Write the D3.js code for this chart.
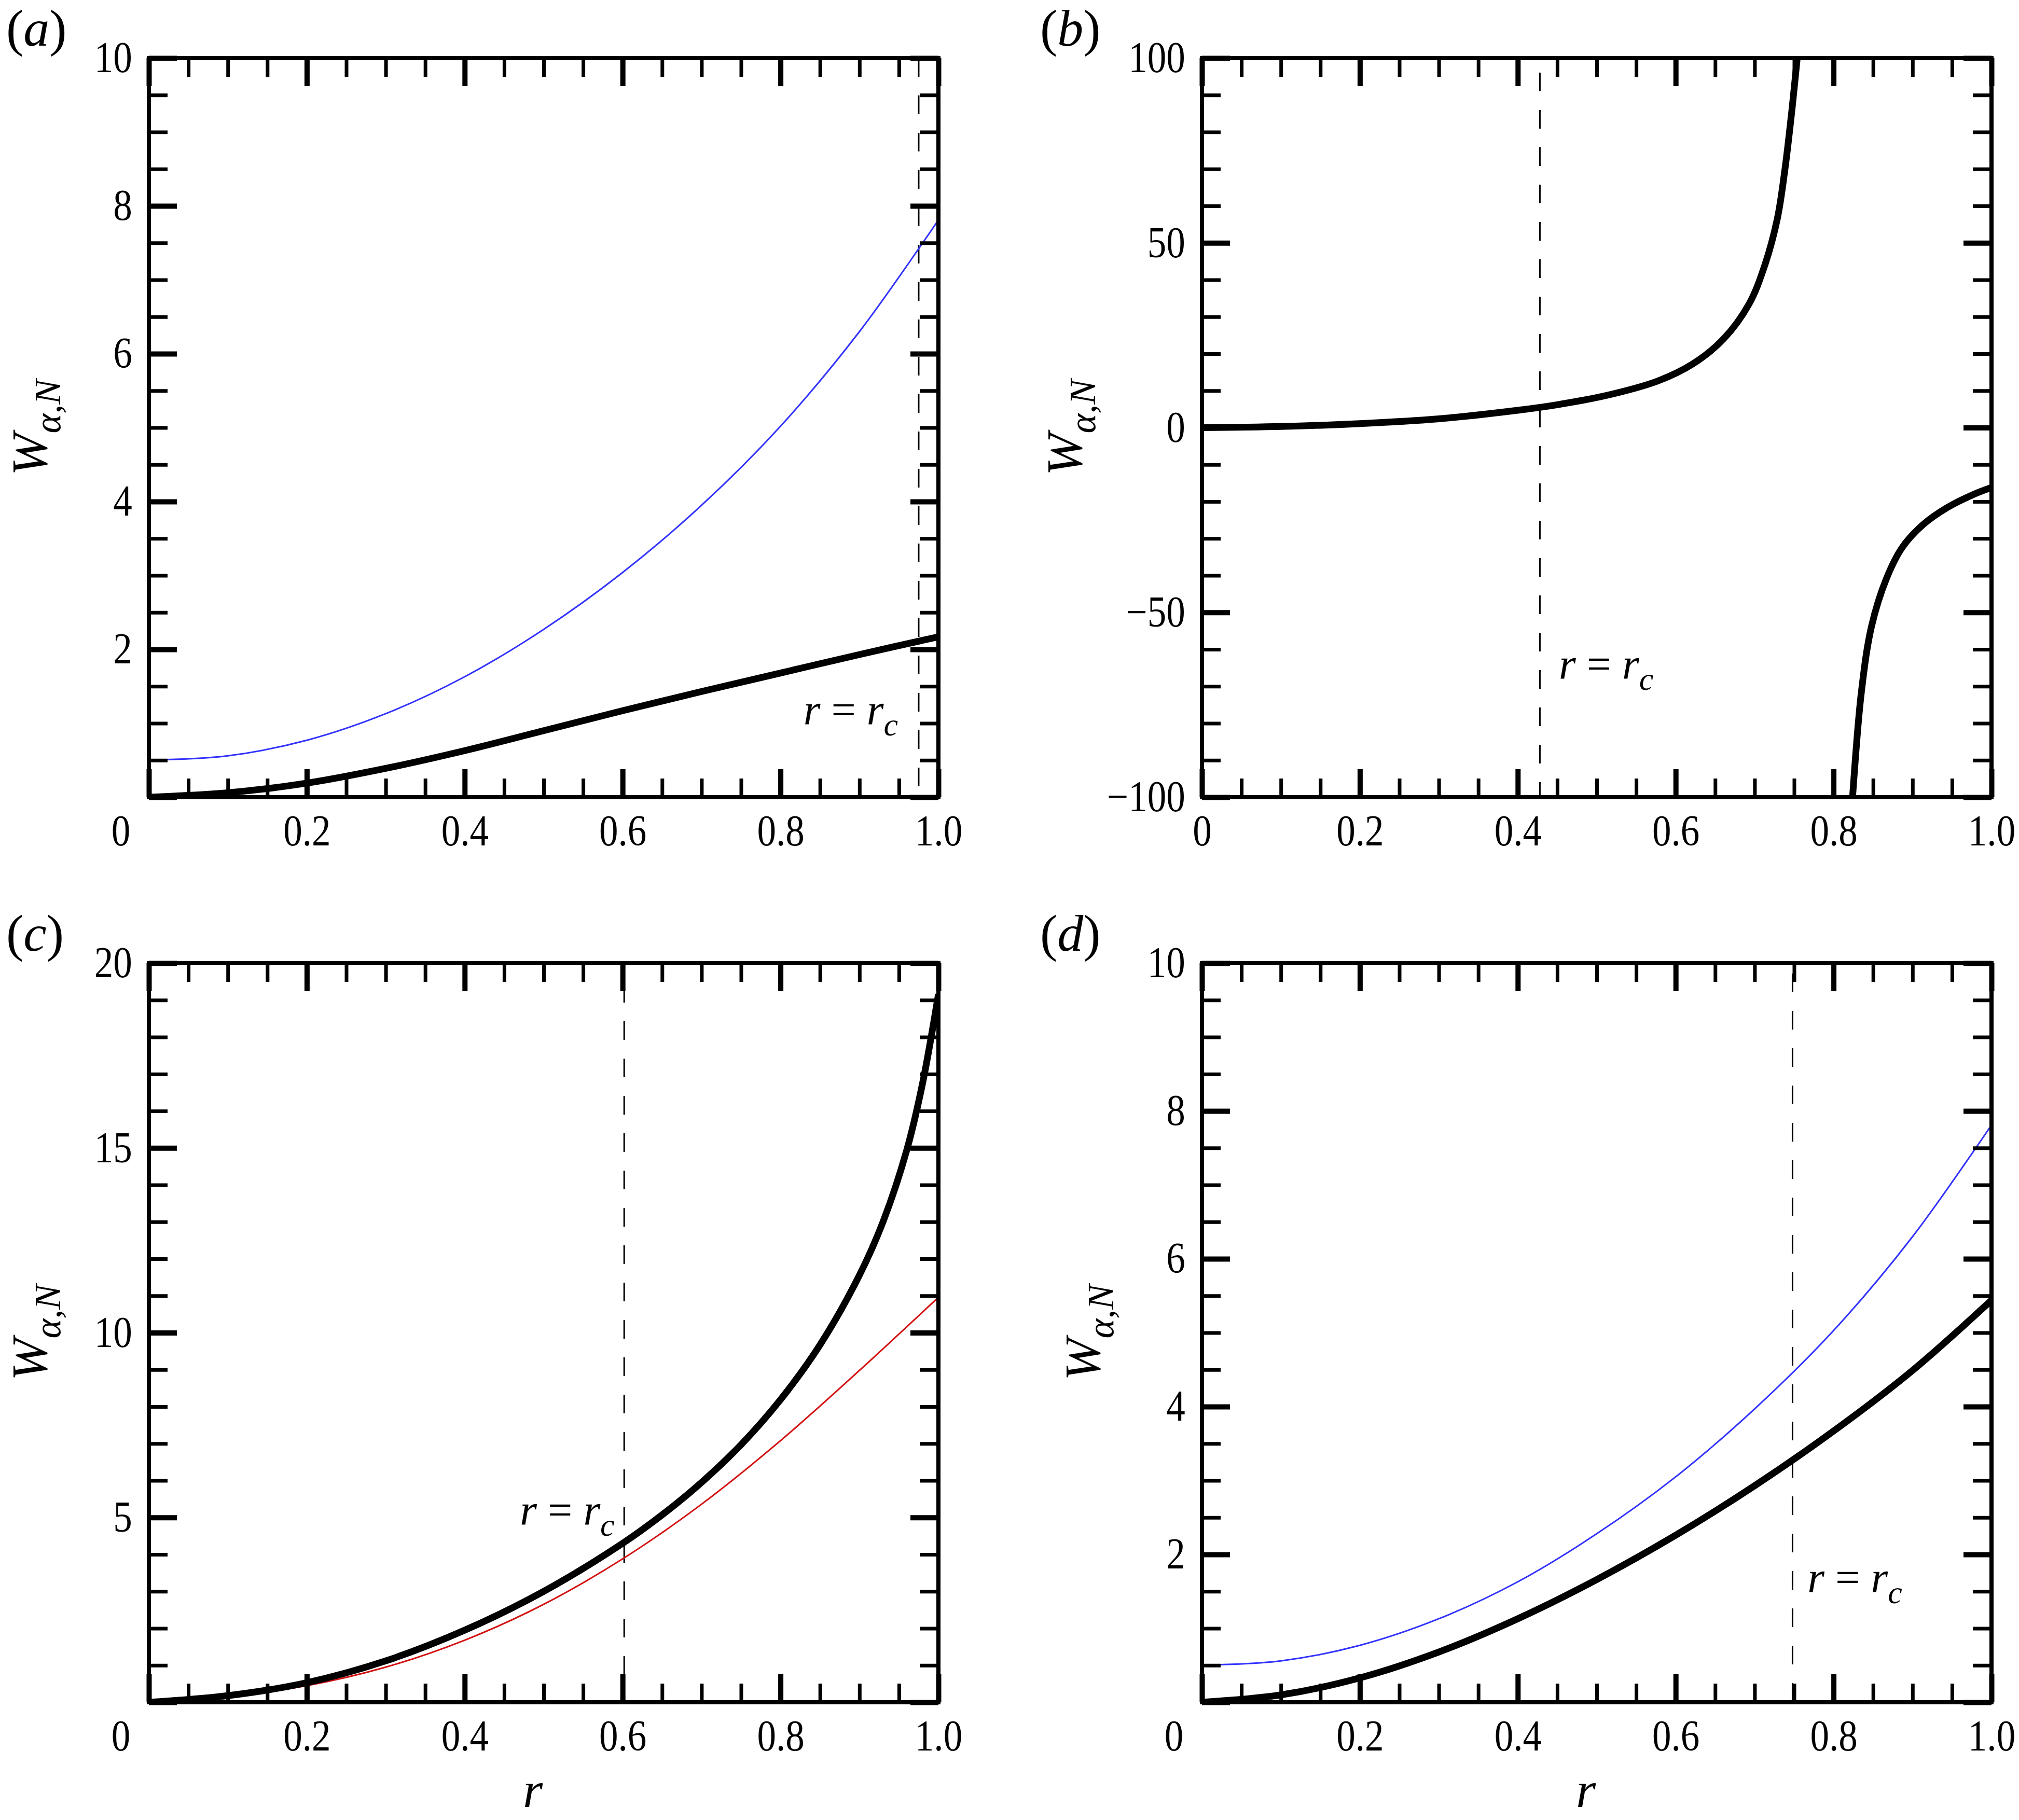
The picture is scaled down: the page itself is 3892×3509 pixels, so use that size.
<!DOCTYPE html>
<html><head><meta charset="utf-8">
<script src="https://cdn.jsdelivr.net/npm/d3@7"></script>
<style>body{margin:0;background:#fff} svg{display:block}</style>
</head><body>
<script>
// ---------------- DATA ----------------
const rGrid = [0, 0.1, 0.2, 0.3, 0.4, 0.5, 0.6, 0.7, 0.8, 0.9, 1.0];

// panel (a)
const aBlackW = [0, 0.06, 0.19, 0.39, 0.63, 0.90, 1.17, 1.43, 1.68, 1.93, 2.17];
const aBlueW  = [0.5, 0.56, 0.77, 1.13, 1.63, 2.27, 3.04, 3.95, 5.02, 6.30, 7.81];
const aRc = 0.975;

// panel (b)
const bUpperR = [0, 0.1, 0.2, 0.3, 0.4, 0.45, 0.512, 0.577, 0.622, 0.661, 0.693, 0.712, 0.7285, 0.738, 0.748, 0.754, 0.758];
const bUpperW = [0, 0.3, 1.1, 2.4, 4.7, 6.2, 8.7, 12.6, 17.3, 24.1, 33.5, 43.4, 56.3, 69.3, 87.5, 100.1, 110];
const bLowerR = [0.8215, 0.824, 0.835, 0.848, 0.867, 0.887, 0.913, 0.945, 0.977, 1.0];
const bLowerW = [-108, -100, -71.9, -53.8, -40.8, -32.4, -26.3, -21.5, -18.1, -16.2];
const bRc = 0.428;

// panel (c)
const cBlackR = [0, 0.1, 0.2, 0.3, 0.4, 0.5, 0.6, 0.65, 0.7, 0.75, 0.8, 0.85, 0.9, 0.93, 0.96, 0.98, 1.0];
const cBlackW = [0, 0.18, 0.53, 1.12, 1.95, 3.00, 4.30, 5.07, 5.95, 6.97, 8.19, 9.67, 11.56, 13.01, 14.95, 16.76, 19.16];
const cRedW   = [0, 0.16, 0.45, 0.95, 1.68, 2.65, 3.88, 5.36, 7.08, 8.98, 10.96];
const cRc = 0.602;

// panel (d)
const dBlackW = [0, 0.10, 0.33, 0.68, 1.13, 1.66, 2.26, 2.93, 3.67, 4.49, 5.44];
const dBlueW  = [0.5, 0.56, 0.77, 1.13, 1.63, 2.28, 3.05, 3.97, 5.03, 6.30, 7.81];
const dRc = 0.748;

// ticks
const xMajor = [0, 0.2, 0.4, 0.6, 0.8, 1.0];
const xMinor = [0.05,0.1,0.15,0.25,0.3,0.35,0.45,0.5,0.55,0.65,0.7,0.75,0.85,0.9,0.95];
const y10Major = [0, 2, 4, 6, 8, 10];
const y10Minor = [0.5,1,1.5,2.5,3,3.5,4.5,5,5.5,6.5,7,7.5,8.5,9,9.5];
const y100Major = [-100, -50, 0, 50, 100];
const y100Minor = [-90,-80,-70,-60,-40,-30,-20,-10,10,20,30,40,60,70,80,90];
const y20Major = [0, 5, 10, 15, 20];
const y20Minor = [1,2,3,4,6,7,8,9,11,12,13,14,16,17,18,19];

const panelLetters = ['a', 'b', 'c', 'd'];
const yLabelMain = 'W';
const yLabelSub = 'α,N';
const xLabel = 'r';

// ---------------- LAYOUT ----------------
const PW = 1522, PH = 1425;
const FONT = '"Liberation Serif","Times New Roman",Times,serif';
const SX = 0.87;

const svg = d3.select('body').append('svg')
  .attr('width', 3892).attr('height', 3509)
  .style('background', '#fff');

function drawPanel(cfg) {
  const g = svg.append('g').attr('transform', `translate(${cfg.left},${cfg.top})`);
  const x = d3.scaleLinear().domain([0, 1]).range([0, PW]);
  const y = d3.scaleLinear().domain(cfg.yDomain).range([PH, 0]);
  const clipId = 'clip-' + cfg.id;
  g.append('clipPath').attr('id', clipId).append('rect').attr('width', PW).attr('height', PH);
  const plot = g.append('g').attr('clip-path', `url(#${clipId})`);

  // dashed r = r_c line
  plot.append('line')
    .attr('x1', x(cfg.rc)).attr('x2', x(cfg.rc))
    .attr('y1', 0).attr('y2', PH)
    .attr('stroke', '#000').attr('stroke-width', 3)
    .attr('stroke-dasharray', '36,36').attr('stroke-dashoffset', cfg.dashOffset || 0);

  const line = d3.line().x(d => x(d[0])).y(d => y(d[1])).curve(d3.curveCatmullRom.alpha(0.5));
  cfg.series.forEach(s => {
    plot.append('path').datum(d3.zip(s.r, s.w))
      .attr('d', line).attr('fill', 'none')
      .attr('stroke', s.color).attr('stroke-width', s.width)
      .attr('stroke-linejoin', 'round');
  });

  // axes: major & minor ticks on all four sides, inward
  function addAxis(gen, transform, vals, size, width, fmt, padding) {
    const a = g.append('g').attr('transform', transform)
      .call(gen.tickValues(vals).tickSizeInner(-size).tickSizeOuter(0)
        .tickPadding(padding || 3).tickFormat(fmt || (() => '')));
    a.select('.domain').remove();
    a.selectAll('.tick line').attr('stroke', '#000').attr('stroke-width', width);
    a.selectAll('.tick text')
      .attr('font-family', FONT).attr('font-size', 84).attr('fill', '#000')
      .attr('transform', `scale(${SX},1)`);
    return a;
  }
  const xFmt = d => d === 0 ? (cfg.cornerZero ? '' : '0') : d3.format('.1f')(d);
  const yFmt = d => (d === 0 && cfg.cornerZero) ? '' : d3.format('d')(d);

  addAxis(d3.axisBottom(x), `translate(0,${PH})`, xMajor, 54, 10, xFmt, 33);
  addAxis(d3.axisBottom(x), `translate(0,${PH})`, xMinor, 36, 7);
  addAxis(d3.axisTop(x), `translate(0,0)`, xMajor, 54, 10);
  addAxis(d3.axisTop(x), `translate(0,0)`, xMinor, 36, 7);
  addAxis(d3.axisLeft(y), `translate(0,0)`, cfg.yMajor, 54, 10, yFmt, 37);
  addAxis(d3.axisLeft(y), `translate(0,0)`, cfg.yMinor, 36, 7);
  addAxis(d3.axisRight(y), `translate(${PW},0)`, cfg.yMajor, 54, 10);
  addAxis(d3.axisRight(y), `translate(${PW},0)`, cfg.yMinor, 36, 7);

  // frame
  g.append('rect').attr('width', PW).attr('height', PH)
    .attr('fill', 'none').attr('stroke', '#000').attr('stroke-width', 8);

  // corner zero label
  if (cfg.cornerZero) {
    g.append('text')
      .attr('transform', `translate(${x(0) - 54},${PH + 93}) scale(${SX},1)`)
      .attr('text-anchor', 'middle')
      .attr('font-family', FONT).attr('font-size', 84).text('0');
  }

  // panel letter
  const pl = svg.append('text')
    .attr('x', cfg.letterX).attr('y', cfg.top - 24)
    .attr('font-family', FONT).attr('font-size', 100);
  pl.append('tspan').text('(');
  pl.append('tspan').attr('font-style', 'italic').text(cfg.letter);
  pl.append('tspan').text(')');

  // y label
  const yl = svg.append('text')
    .attr('transform', `translate(${cfg.yLabelX},${cfg.top + PH / 2}) rotate(-90)`)
    .attr('text-anchor', 'middle')
    .attr('font-family', FONT).attr('font-style', 'italic');
  yl.append('tspan').attr('font-size', 98).text(yLabelMain);
  yl.append('tspan').attr('font-size', 72).attr('dy', 26).text(yLabelSub);

  // x label
  if (cfg.xLabel) {
    svg.append('text')
      .attr('x', cfg.left + 740).attr('y', cfg.top + PH + 202)
      .attr('text-anchor', 'middle')
      .attr('font-family', FONT).attr('font-style', 'italic').attr('font-size', 98)
      .text(xLabel);
  }

  // r = r_c annotation
  const an = g.append('text')
    .attr('x', x(cfg.annR)).attr('y', y(cfg.annW))
    .attr('font-family', FONT).attr('font-size', 84);
  an.append('tspan').attr('font-style', 'italic').text('r');
  an.append('tspan').text(' = ');
  an.append('tspan').attr('font-style', 'italic').text('r');
  an.append('tspan').attr('font-style', 'italic').attr('font-size', 62).attr('dy', 21).text('c');
}

drawPanel({
  id: 'a', letter: panelLetters[0], left: 287, top: 112, letterX: 12, yLabelX: 90,
  yDomain: [0, 10], yMajor: y10Major, yMinor: y10Minor, cornerZero: true, rc: aRc,
  annR: 0.829, annW: 0.98,
  series: [
    {r: rGrid, w: aBlueW, color: '#3232ff', width: 3},
    {r: rGrid, w: aBlackW, color: '#000', width: 13}
  ]
});
drawPanel({
  id: 'b', letter: panelLetters[1], left: 2317, top: 112, letterX: 2005, yLabelX: 2085,
  yDomain: [-100, 100], yMajor: y100Major, yMinor: y100Minor, cornerZero: false, rc: bRc,
  annR: 0.452, annW: -68, dashOffset: -28,
  series: [
    {r: bUpperR, w: bUpperW, color: '#000', width: 13},
    {r: bLowerR, w: bLowerW, color: '#000', width: 13}
  ]
});
drawPanel({
  id: 'c', letter: panelLetters[2], left: 287, top: 1857, letterX: 12, yLabelX: 90,
  yDomain: [0, 20], yMajor: y20Major, yMinor: y20Minor, cornerZero: true, rc: cRc,
  annR: 0.47, annW: 4.8, xLabel: true, dashOffset: -40,
  series: [
    {r: rGrid, w: cRedW, color: '#d41010', width: 3},
    {r: cBlackR, w: cBlackW, color: '#000', width: 13}
  ]
});
drawPanel({
  id: 'd', letter: panelLetters[3], left: 2317, top: 1857, letterX: 2005, yLabelX: 2120,
  yDomain: [0, 10], yMajor: y10Major, yMinor: y10Minor, cornerZero: true, rc: dRc,
  annR: 0.767, annW: 1.49, xLabel: true, dashOffset: -20,
  series: [
    {r: rGrid, w: dBlueW, color: '#3232ff', width: 3},
    {r: rGrid, w: dBlackW, color: '#000', width: 13}
  ]
});
</script>
</body></html>
